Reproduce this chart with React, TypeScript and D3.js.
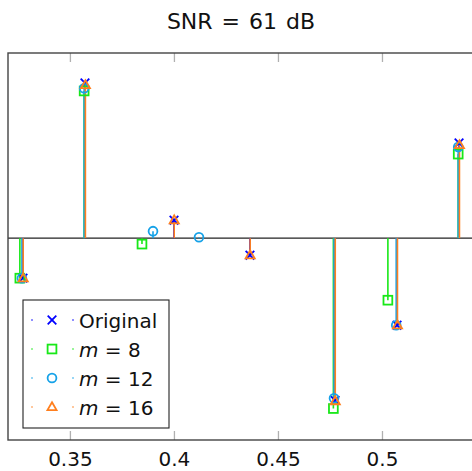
import React from "react";
import * as d3 from "d3";

const origX = [0.3272, 0.357, 0.3998, 0.4363, 0.4772, 0.507, 0.5368];
const origY = [-0.216, 0.838, 0.097, -0.092, -0.876, -0.47, 0.514];

const m8X = [0.3257, 0.3566, 0.3844, 0.4764, 0.5026, 0.5364];
const m8Y = [-0.216, 0.795, -0.032, -0.92, -0.335, 0.454];

const m12X = [0.3267, 0.3566, 0.3897, 0.4118, 0.4767, 0.5066, 0.5364];
const m12Y = [-0.216, 0.81, 0.038, 0.005, -0.865, -0.47, 0.492];

const m16X = [0.3273, 0.3572, 0.3999, 0.4364, 0.4773, 0.5072, 0.537];
const m16Y = [-0.216, 0.827, 0.097, -0.092, -0.88, -0.47, 0.503];

const xTicks = [0.35, 0.4, 0.45, 0.5];
const xTickLabels = ["0.35", "0.4", "0.45", "0.5"];
const legendLabels = ["Original", "8", "12", "16"];

const W = 472, H = 471;
const L = 8, R = 486.5, T = 53, B = 440;
const FONT = "'DejaVu Sans', sans-serif";

const C_ORIG = "#0000ff";
const C_M8 = "#18e818";
const C_M12 = "#16a2e8";
const C_M16 = "#ff7f1e";

function Marker({ type, x, y, color }: { type: string; x: number; y: number; color: string }) {
  const sw = 1.8;
  if (type === "x") {
    const s = 4.3;
    return (
      <g stroke={color} strokeWidth={sw}>
        <line x1={x - s} y1={y - s} x2={x + s} y2={y + s} />
        <line x1={x - s} y1={y + s} x2={x + s} y2={y - s} />
      </g>
    );
  }
  if (type === "square") {
    const s = 4.4;
    return <rect x={x - s} y={y - s} width={2 * s} height={2 * s} fill="none" stroke={color} strokeWidth={sw} />;
  }
  if (type === "circle") {
    return <circle cx={x} cy={y} r={4.4} fill="none" stroke={color} strokeWidth={sw} />;
  }
  const s = 4.8;
  return (
    <path
      d={`M${x},${y - s} L${x + s * 0.95},${y + s * 0.65} L${x - s * 0.95},${y + s * 0.65} Z`}
      fill="none"
      stroke={color}
      strokeWidth={sw}
    />
  );
}

export default function App() {
  const x = d3.scaleLinear().domain([0.32, 0.55]).range([L, R]);
  const y = d3.scaleLinear().domain([-1.09, 1.0]).range([B, T]);
  const y0 = y(0);

  const series = [
    { xs: origX, ys: origY, color: C_ORIG, type: "x" },
    { xs: m8X, ys: m8Y, color: C_M8, type: "square" },
    { xs: m12X, ys: m12Y, color: C_M12, type: "circle" },
    { xs: m16X, ys: m16Y, color: C_M16, type: "triangle" },
  ];

  const legendTop = 300;
  const rowGap = 29;

  return (
    <svg
      width={W}
      height={H}
      style={{ position: "absolute", left: 0, top: 0, background: "#fff" }}
      fontFamily={FONT}
    >
      <rect x={0} y={0} width={W} height={H} fill="#fff" />
      <text x={241} y={29} textAnchor="middle" fontSize={22} fill="#111" wordSpacing={2}>
        SNR = 61 dB
      </text>

      {xTicks.map((t, i) => (
        <g key={i}>
          <line x1={x(t)} x2={x(t)} y1={T} y2={T + 9} stroke="#b0b0b0" strokeWidth={1.3} />
          <line x1={x(t)} x2={x(t)} y1={B} y2={B - 9} stroke="#b0b0b0" strokeWidth={1.3} />
          <text x={x(t)} y={466} textAnchor="middle" fontSize={20} fill="#111">
            {xTickLabels[i]}
          </text>
        </g>
      ))}

      <line x1={L} x2={R} y1={y0} y2={y0} stroke="#222" strokeWidth={1.2} />

      {series.map((s, si) => (
        <g key={"st" + si}>
          {s.xs.map((xv, i) => (
            <line
              key={i}
              x1={x(xv)}
              x2={x(xv)}
              y1={y0}
              y2={y(s.ys[i])}
              stroke={s.color}
              strokeWidth={1.6}
            />
          ))}
        </g>
      ))}
      {series.map((s, si) => (
        <g key={"mk" + si}>
          {s.xs.map((xv, i) => (
            <Marker key={i} type={s.type} x={x(xv)} y={y(s.ys[i])} color={s.color} />
          ))}
        </g>
      ))}

      <rect x={L} y={T} width={R - L} height={B - T} fill="none" stroke="#444" strokeWidth={1.4} />

      <rect x={23} y={legendTop} width={146} height={128} fill="#fff" stroke="#222" strokeWidth={1.1} />
      {series.map((s, i) => {
        const cy = legendTop + 20 + i * rowGap;
        return (
          <g key={"lg" + i}>
            <circle cx={32} cy={cy} r={0.8} fill={s.color} />
            <circle cx={73} cy={cy} r={0.8} fill={s.color} />
            <Marker type={s.type} x={52} y={cy} color={s.color} />
            <text x={79} y={cy + 7.5} fontSize={20} fill="#111">
              {i === 0 ? (
                legendLabels[0]
              ) : (
                <>
                  <tspan fontStyle="italic">m</tspan>
                  <tspan> = {legendLabels[i]}</tspan>
                </>
              )}
            </text>
          </g>
        );
      })}
    </svg>
  );
}
